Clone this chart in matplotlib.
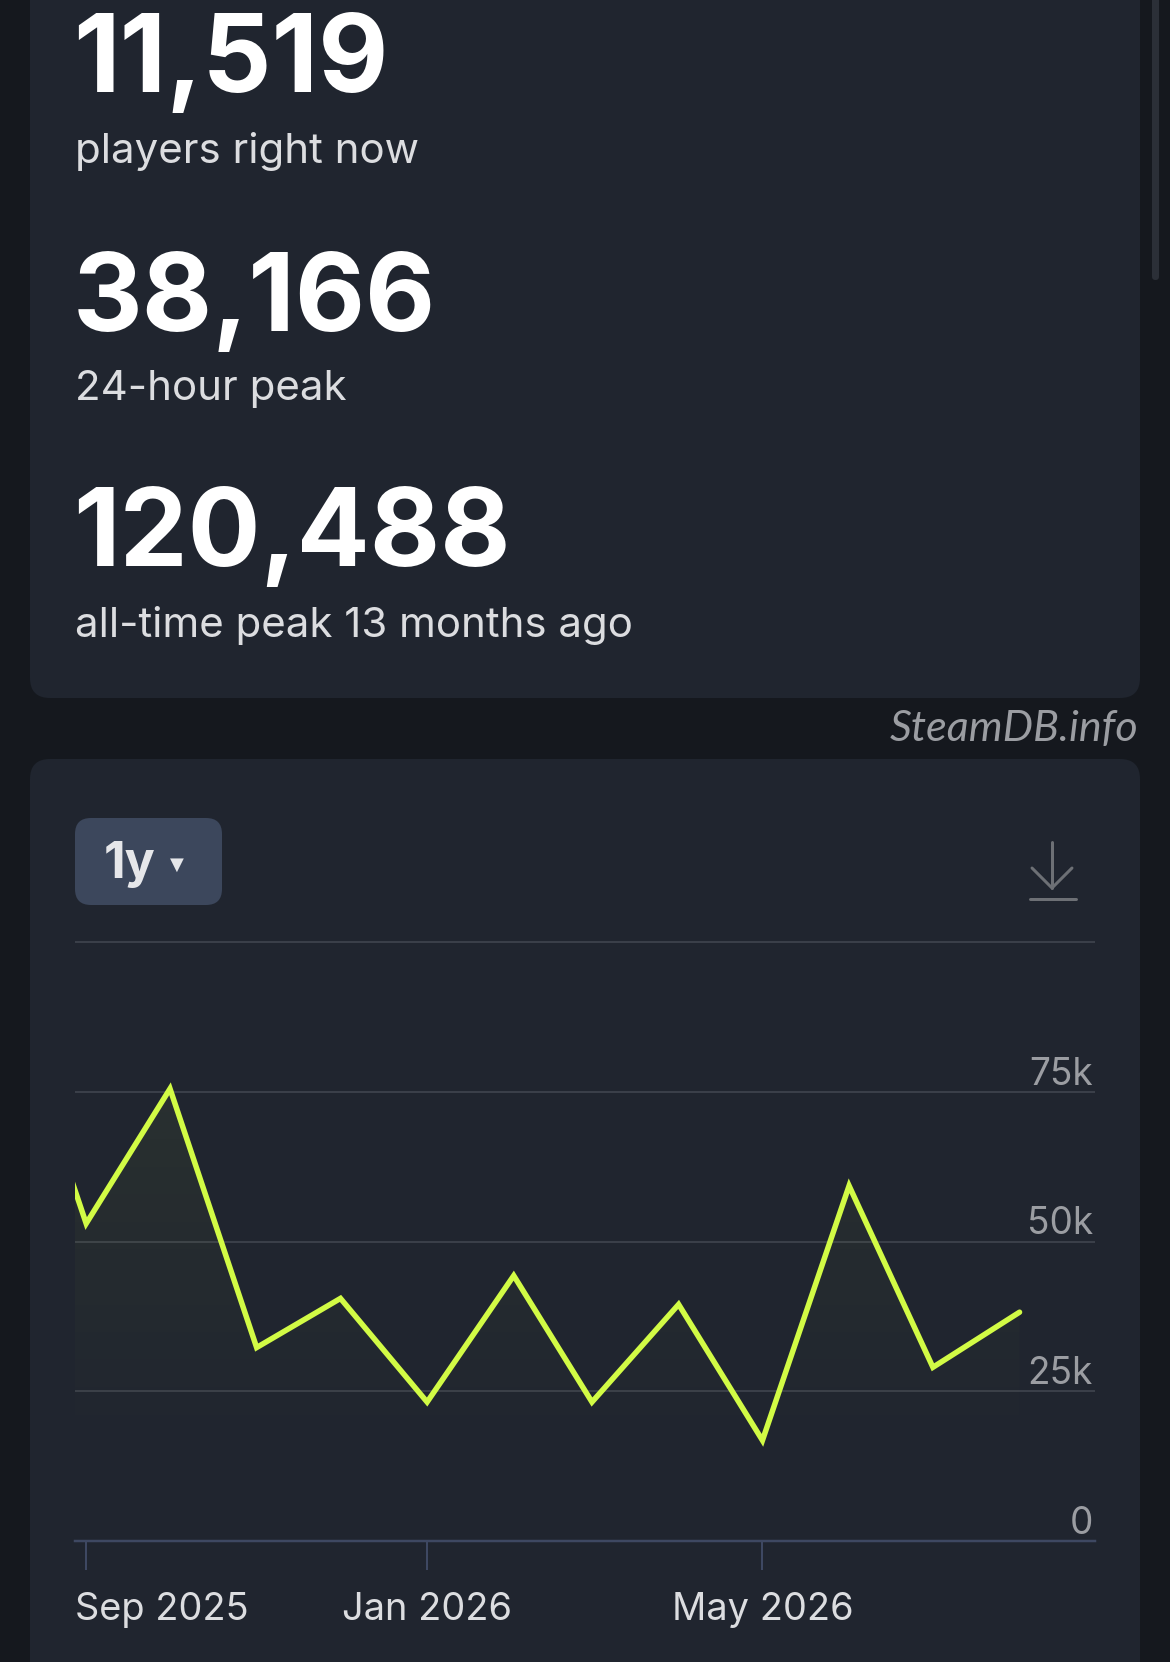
import matplotlib
matplotlib.use('Agg')
import matplotlib.pyplot as plt
import matplotlib.dates as mdates
from matplotlib.patches import FancyBboxPatch, Polygon
import numpy as np

# Data
months = np.array(['2025-08-01', '2025-09-01', '2025-10-01', '2025-11-01', '2025-12-01',
                   '2026-01-01', '2026-02-01', '2026-03-01', '2026-04-01', '2026-05-01',
                   '2026-06-01', '2026-07-01', '2026-08-01'], dtype='datetime64[D]')
players = [96000, 53000, 75500, 32300, 40500, 23200, 44300, 23200, 39500, 16800, 59300, 29000, 38200]

y_ticks = [0, 25000, 50000, 75000]
y_tick_labels = ['0', '25k', '50k', '75k']
grid_values = [25000, 50000, 75000, 100000]
x_ticks = np.array(['2025-09-01', '2026-01-01', '2026-05-01'], dtype='datetime64[D]')
x_tick_labels = ['Sep 2025', 'Jan 2026', 'May 2026']
x_range = np.array(['2025-08-28', '2026-08-28'], dtype='datetime64[D]')

stat_values = ['11,519', '38,166', '120,488']
stat_labels = ['players right now', '24-hour peak', 'all-time peak 13 months ago']

plt.rcParams['font.family'] = ['Inter', 'DejaVu Sans']

W, H = 1170, 1662
PT = 0.72  # pt per pixel at dpi 100

BG = '#15181e'
CARD = '#20252f'
LIME = '#d2fb45'
GRID = '#3a3f49'
AXIS = '#3e4862'
MUTED = '#9b9da2'

fig = plt.figure(figsize=(W / 100, H / 100), dpi=100)
fig.patch.set_facecolor(BG)

bg = fig.add_axes([0, 0, 1, 1])
bg.set_xlim(0, W)
bg.set_ylim(H, 0)
bg.axis('off')

# cards
bg.add_patch(FancyBboxPatch((30, -60), 1110, 758, boxstyle='round,pad=0,rounding_size=20',
                            facecolor=CARD, edgecolor='none'))
bg.add_patch(FancyBboxPatch((30, 759), 1110, 1000, boxstyle='round,pad=0,rounding_size=20',
                            facecolor=CARD, edgecolor='none'))
# scrollbar
bg.add_patch(FancyBboxPatch((1152, -20), 7, 300, boxstyle='round,pad=0,rounding_size=3.5',
                            facecolor='#2b2f37', edgecolor='none'))

# stats
baselines = [(92, 163), (331, 400), (566, 637)]
for val, lab, (b1, b2) in zip(stat_values, stat_labels, baselines):
    bg.text(73, b1, val, fontsize=108 * PT, fontweight='bold', color='white', va='baseline', ha='left')
    bg.text(75, b2, lab, fontsize=42 * PT, color='#dcdde0', va='baseline', ha='left')

bg.text(1138, 741, 'SteamDB.info', fontsize=43 * PT, style='italic', color=MUTED,
        va='baseline', ha='right', family=['Lato', 'Open Sans', 'DejaVu Sans'])

# range button
bg.add_patch(FancyBboxPatch((75, 818), 147, 87, boxstyle='round,pad=0,rounding_size=16',
                            facecolor='#3c475c', edgecolor='none'))
bg.text(104, 878, '1y', fontsize=50 * PT, fontweight='bold', color='#e6e7ea', va='baseline', ha='left')
bg.text(177, 865, '▼', fontsize=18 * PT, color='#e6e7ea', va='center', ha='center',
        family=['DejaVu Sans'])

# download icon
icon_kw = dict(color='#6d7075', lw=3 * PT, solid_capstyle='round')
bg.plot([1052, 1052], [842, 888], **icon_kw)
bg.plot([1032, 1052, 1072], [868, 888, 868], solid_joinstyle='miter', **icon_kw)
bg.plot([1030, 1076], [899, 899], **icon_kw)

# chart
ax = fig.add_axes([75 / W, (H - 1541) / H, 1020 / W, 599 / H])
ax.set_facecolor('none')

xs = mdates.date2num(months)
verts = [(xs[0], 0)] + list(zip(xs, players)) + [(xs[-1], 0)]
clip = Polygon(verts, closed=True, facecolor='none', edgecolor='none', transform=ax.transData)
ax.add_patch(clip)
grad = np.zeros((256, 1, 4))
grad[..., :3] = matplotlib.colors.to_rgb(LIME)
grad[:, 0, 3] = np.clip(np.linspace(-0.01, 0.075, 256), 0, None)
im = ax.imshow(grad, aspect='auto', origin='lower', extent=[xs[0], xs[-1], 0, 100000], zorder=1)
im.set_clip_path(clip)

ax.plot(months, players, color=LIME, lw=5.5 * PT, solid_joinstyle='miter',
        solid_capstyle='round', zorder=3)

ax.set_xlim(mdates.date2num(x_range[0]), mdates.date2num(x_range[1]))
ax.set_ylim(0, 100000)

ax.hlines(grid_values, 0, 1, transform=ax.get_yaxis_transform(), color=GRID, lw=2 * PT,
          clip_on=False, zorder=0)
for s in ['top', 'left', 'right']:
    ax.spines[s].set_visible(False)
ax.spines['bottom'].set_color(AXIS)
ax.spines['bottom'].set_linewidth(2.5 * PT)

ax.set_yticks([])
ax.set_xticks(mdates.date2num(x_ticks))
ax.tick_params(axis='x', length=29 * PT, width=2 * PT, color=AXIS, direction='out',
               labelbottom=False)

for v, lab in zip(y_ticks, y_tick_labels):
    ax.annotate(lab, xy=(1, v), xycoords=('axes fraction', 'data'), xytext=(-2 * PT, 7 * PT),
                textcoords='offset points', ha='right', va='baseline',
                fontsize=37 * PT, color=MUTED)

xmin = ax.get_xlim()[0]
for d, lab in zip(mdates.date2num(x_ticks), x_tick_labels):
    if d - xmin < 30:
        xy, ha = (xmin, 0), 'left'
    else:
        xy, ha = (d, 0), 'center'
    ax.annotate(lab, xy=xy, xycoords=('data', 'axes fraction'), xytext=(0, -79 * PT),
                textcoords='offset points', ha=ha, va='baseline',
                fontsize=38 * PT, color='#dcdde0')

fig.savefig('out.png', dpi=100, facecolor=BG)
